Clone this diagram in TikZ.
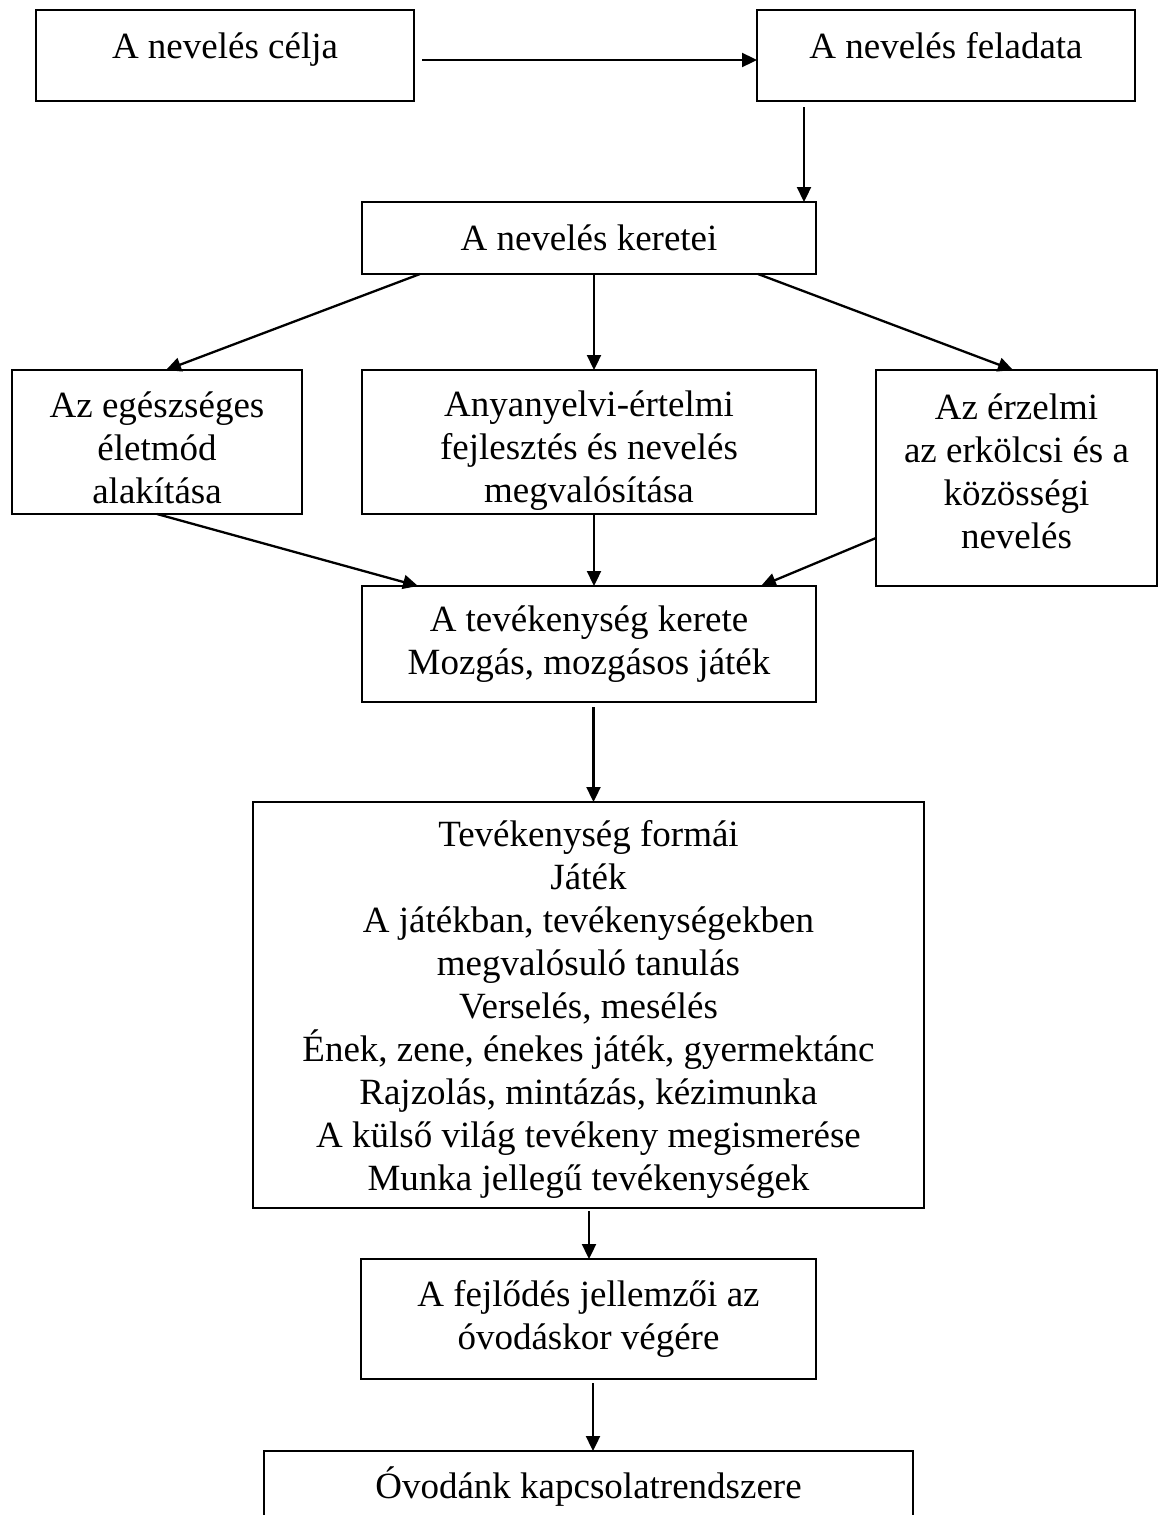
\documentclass[tikz,border=0pt]{standalone}
\usepackage{fontspec}
\setmainfont{Liberation Serif}
\usetikzlibrary{arrows.meta}
\begin{document}
\begin{tikzpicture}[x=1pt,y=-1pt,
  box/.style={draw, line width=2pt, rectangle, inner sep=0pt, outer sep=0pt, align=center,
              font=\fontsize{37}{43}\selectfont},
  arr/.style={line width=2.3pt, -{Triangle[length=15pt,width=14pt]}}]
\clip (0,0) rectangle (1159,1515);
\fill[white] (0,0) rectangle (1159,1515);

\node[box, minimum width=378pt, minimum height=91pt, text height=30pt, text depth=25pt] (c1) at (225,55.5) {A nevelés célja};
\node[box, minimum width=378pt, minimum height=91pt, text height=30pt, text depth=25pt] (f) at (946,55.5) {A nevelés feladata};
\node[box, minimum width=454pt, minimum height=72pt] (k) at (589,238) {A nevelés keretei};
\node[box, minimum width=290pt, minimum height=144pt] (e) at (157,442) {\rule{0pt}{37pt}Az egészséges\\életmód\\alakítása};
\node[box, minimum width=454pt, minimum height=144pt] (a) at (589,442) {\rule{0pt}{42pt}Anyanyelvi-értelmi\\fejlesztés és nevelés\\megvalósítása};
\node[box, minimum width=281pt, minimum height=216pt] (z) at (1016.5,478) {Az érzelmi\\az erkölcsi és a\\közösségi\\nevelés\rule[-14pt]{0pt}{0pt}};
\node[box, minimum width=454pt, minimum height=116pt] (t) at (589,644) {A tevékenység kerete\\Mozgás, mozgásos játék};
\node[box, minimum width=671pt, minimum height=406pt] (fo) at (588.5,1005) {\rule{0pt}{35pt}Tevékenység formái\\Játék\\A játékban, tevékenységekben\\megvalósuló tanulás\\Verselés, mesélés\\Ének, zene, énekes játék, gyermektánc\\Rajzolás, mintázás, kézimunka\\A külső világ tevékeny megismerése\\Munka jellegű tevékenységek};
\node[box, minimum width=455pt, minimum height=120pt] (fe) at (588.5,1319) {A fejlődés jellemzői az\\óvodáskor végére};
\node[box, minimum width=649pt, minimum height=72pt, anchor=north] (o) at (588.5,1451) {Óvodánk kapcsolatrendszere};

\draw[arr] ([xshift=8pt,yshift=-4.5pt]c1.east) -- ([yshift=-4.5pt]f.west);
\draw[arr] ([xshift=-142pt,yshift=-6pt]f.south) -- ([xshift=-142pt]f.south |- k.north);
\draw[arr] ([xshift=-169pt]k.south) -- ([xshift=9pt]e.north);
\draw[arr] ([xshift=5pt]k.south) -- ([xshift=5pt]k.south |- a.north);
\draw[arr] ([xshift=169pt]k.south) -- ([xshift=-3.5pt]z.north);
\draw[arr] (e.south) -- ([xshift=-171pt]t.north);
\draw[arr] ([xshift=5pt]a.south) -- ([xshift=5pt]a.south |- t.north);
\draw[arr] ([yshift=-60pt]z.west) -- ([xshift=172pt]t.north);
\draw[arr] ([xshift=4.5pt,yshift=-5pt]t.south) -- ([xshift=4.5pt]t.south |- fo.north);
\draw[arr] ([xshift=0.5pt,yshift=-3pt]fo.south) -- ([xshift=0.5pt]fo.south |- fe.north);
\draw[arr] ([xshift=4.5pt,yshift=-4pt]fe.south) -- ([xshift=4.5pt]fe.south |- o.north);
\end{tikzpicture}
\end{document}
